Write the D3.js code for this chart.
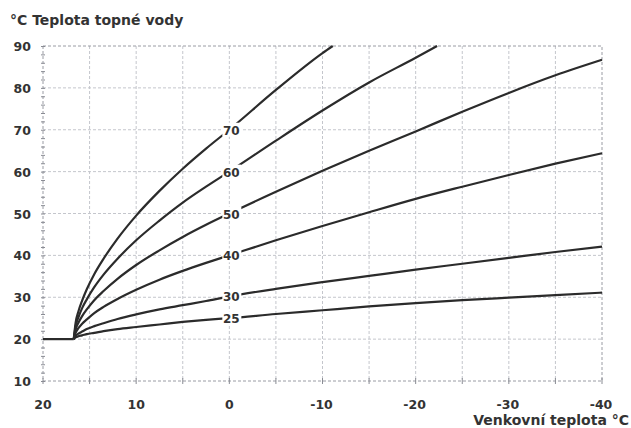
<!DOCTYPE html>
<html>
<head>
<meta charset="utf-8">
<script src="https://cdn.jsdelivr.net/npm/d3@7"></script>
<style>
  body { margin: 0; background: #fff; }
  text { font-family: "DejaVu Sans", sans-serif; font-weight: bold; fill: #333; }
</style>
</head>
<body>
<div id="chart"></div>
<script>
// outdoor temperature (x) where the curves were read
var outdoor = [16.7, 16.5, 16.2, 15.8, 15.3, 14.5, 13.5, 12, 10, 7.5, 5, 2.5, 0, -5, -10, -15, -20, -25, -30, -35, -40];
var curveNames = ["25", "30", "40", "50", "60", "70"];
// heating water temperature for each curve (curves 60 and 70 stop at the top of the chart)
var curve25 = [20, 20.4, 20.7, 20.9, 21.2, 21.5, 21.9, 22.4, 22.9, 23.5, 24.1, 24.6, 25, 26, 26.9, 27.8, 28.6, 29.3, 29.9, 30.5, 31.1];
var curve30 = [20, 20.8, 21.3, 21.8, 22.4, 23.1, 23.8, 24.8, 25.9, 27.1, 28.1, 29.1, 30.2, 32, 33.6, 35.1, 36.6, 38, 39.4, 40.8, 42.1];
var curve40 = [20, 21.5, 22.6, 23.7, 24.7, 26.2, 27.7, 29.6, 31.8, 34.2, 36.3, 38.2, 40, 43.6, 47, 50.3, 53.5, 56.4, 59.2, 61.9, 64.4];
var curve50 = [20, 22.3, 23.9, 25.5, 27.1, 29.3, 31.5, 34.4, 37.7, 41.2, 44.4, 47.3, 50, 55.2, 60.2, 65, 69.6, 74.3, 78.8, 83, 86.7];
var curve60 = [20, 23.1, 25.2, 27.4, 29.5, 32.4, 35.4, 39.2, 43.6, 48.3, 52.6, 56.4, 60, 67.4, 74.6, 81.3, 87.2];
var curve70 = [20, 23.9, 26.6, 29.2, 31.9, 35.5, 39.2, 44, 49.5, 55.4, 60.7, 65.5, 70, 79.5, 88.3];
var topExit = {"60": -22.3, "70": -11.1};   // outdoor temp where the curve reaches 90
var flatStart = 20, flatEnd = 16.7, flatValue = 20;
var xTicks = [20, 10, 0, -10, -20, -30, -40];
var yTicks = [10, 20, 30, 40, 50, 60, 70, 80, 90];

var width = 631, height = 428;
var margin = {left: 43, right: 29, top: 46, bottom: 47};

var svg = d3.select("#chart").append("svg")
    .attr("width", width).attr("height", height);

var x = d3.scaleLinear().domain([20, -40]).range([margin.left, width - margin.right]);
var y = d3.scaleLinear().domain([10, 90]).range([height - margin.bottom, margin.top]);

// grid
var grid = svg.append("g").attr("stroke", "#c4c6cc").attr("stroke-width", 1).attr("stroke-dasharray", "3,2");
grid.selectAll("line.v").data(d3.range(15, -40, -5)).enter().append("line")
    .attr("x1", d => x(d)).attr("x2", d => x(d))
    .attr("y1", y(90)).attr("y2", y(10));
grid.selectAll("line.h").data(d3.range(20, 90, 10)).enter().append("line")
    .attr("x1", x(20)).attr("x2", x(-40))
    .attr("y1", d => y(d)).attr("y2", d => y(d));

// frame
svg.append("rect")
    .attr("x", x(20)).attr("y", y(90))
    .attr("width", x(-40) - x(20)).attr("height", y(10) - y(90))
    .attr("fill", "none").attr("stroke", "#9a9ca4").attr("stroke-dasharray", "3,2");

// minor ticks on left and bottom axis
svg.append("g").attr("stroke", "#8a8c94").selectAll("line").data(d3.range(10, 91, 2)).enter().append("line")
    .attr("x1", x(20) - 2).attr("x2", x(20) + 2)
    .attr("y1", d => y(d) + 0.5).attr("y2", d => y(d) + 0.5);
svg.append("g").attr("stroke", "#8a8c94").selectAll("line").data(d3.range(20, -41, -5)).enter().append("line")
    .attr("x1", d => x(d)).attr("x2", d => x(d))
    .attr("y1", y(10) - 3).attr("y2", y(10) + 3);

// y tick labels
svg.append("g").selectAll("text").data(yTicks).enter().append("text")
    .attr("x", 31).attr("y", d => y(d) + 5)
    .attr("text-anchor", "end").attr("font-size", 12.5)
    .text(d => d);

// x tick labels
svg.append("g").selectAll("text").data(xTicks).enter().append("text")
    .attr("x", d => x(d) + (d < 0 ? -1 : 0)).attr("y", 409)
    .attr("text-anchor", "middle").attr("font-size", 12.5)
    .text(d => d);

svg.append("text").attr("x", 10).attr("y", 25).attr("font-size", 14)
    .text("°C  Teplota topné vody");
svg.append("text").attr("x", 629).attr("y", 425).attr("text-anchor", "end").attr("font-size", 14)
    .text("Venkovní teplota  °C");

// curves
var series = [curve25, curve30, curve40, curve50, curve60, curve70];
var line = d3.line().x(d => x(d[0])).y(d => y(d[1])).curve(d3.curveMonotoneX);

var curves = svg.append("g").attr("fill", "none").attr("stroke", "#2b2b2b").attr("stroke-width", 2.2).attr("stroke-linejoin", "round");
curves.append("line")
    .attr("x1", x(flatStart)).attr("x2", x(flatEnd))
    .attr("y1", y(flatValue)).attr("y2", y(flatValue));

series.forEach(function (vals, i) {
    var pts = vals.map((v, j) => [outdoor[j], v]);
    var exit = topExit[curveNames[i]];
    if (exit !== undefined) pts.push([exit, 90]);
    curves.append("path").attr("d", line(pts));
});

// curve labels at 0 °C
var labels = svg.append("g");
series.forEach(function (vals, i) {
    var v = vals[outdoor.indexOf(0)];
    var g = labels.append("g").attr("transform", "translate(" + (x(0) + 2) + "," + y(v) + ")");
    g.append("rect").attr("x", -9).attr("y", -7).attr("width", 19).attr("height", 14).attr("fill", "#fff");
    g.append("text").attr("text-anchor", "middle").attr("y", 5).attr("font-size", 12).text(curveNames[i]);
});
</script>
</body>
</html>
